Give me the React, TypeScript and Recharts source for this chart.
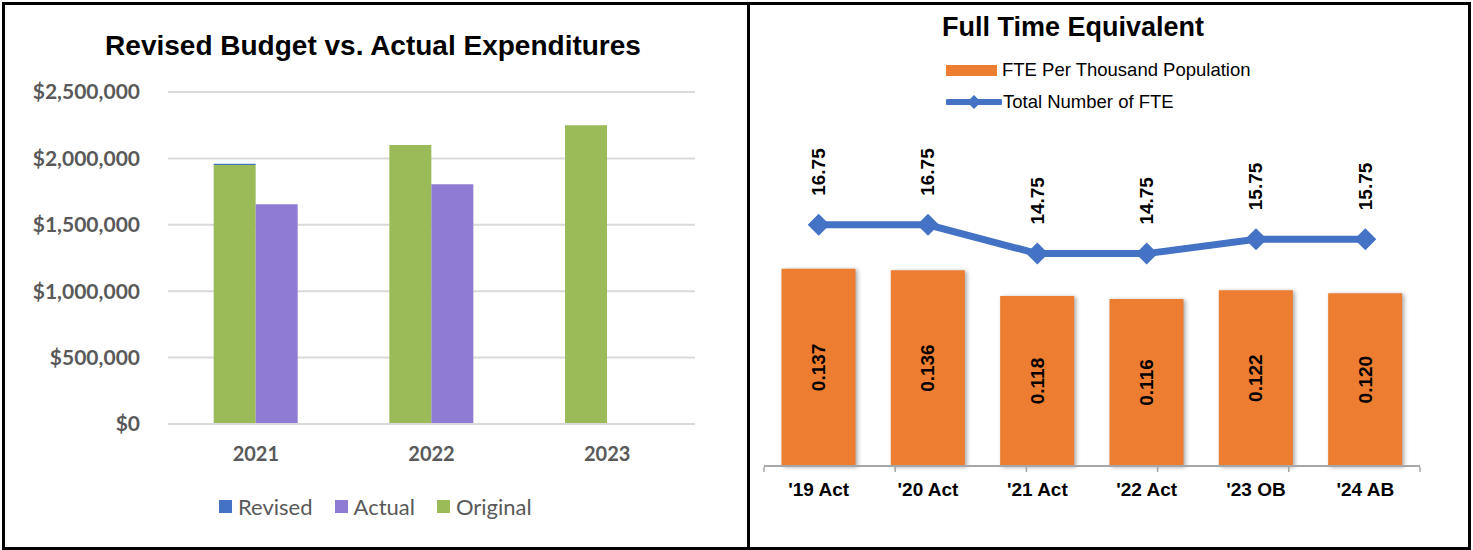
import React from 'react';
import {
  BarChart, Bar, XAxis, YAxis, CartesianGrid, ComposedChart, Line, LabelList,
} from 'recharts';

// left panel: revised budget vs actual
const years = ['2021', '2022', '2023'];
const originalBudget = [1950000, 2100000, 2250000];
const revisedBudget = [10000, 0, 0];
const actualSpend: (number | null)[] = [1655000, 1805000, null];
const budgetTicks = [0, 500000, 1000000, 1500000, 2000000, 2500000];

// right panel: full time equivalent
const fteCategories = ["'19 Act", "'20 Act", "'21 Act", "'22 Act", "'23 OB", "'24 AB"];
const ftePerThousand = [0.137, 0.136, 0.118, 0.116, 0.122, 0.12];
const fteTotal = [16.75, 16.75, 14.75, 14.75, 15.75, 15.75];
const edgeTicks = [0, 1, 2, 3, 4, 5, 6];

const budgetData = years.map((year, i) => ({
  year,
  original: originalBudget[i],
  revised: revisedBudget[i],
  actual: actualSpend[i],
}));

const fteData = fteCategories.map((cat, i) => ({
  cat,
  perK: ftePerThousand[i],
  total: fteTotal[i],
}));

const CALIBRI = 'Lato, "Open Sans", sans-serif';
const ARIAL = '"Liberation Sans", Arial, sans-serif';

const GREEN = '#9bbb59';
const PURPLE = '#8f7bd3';
const BLUE = '#4472c4';
const ORANGE = '#ed7d31';

const money = (v: number) => '$' + v.toLocaleString('en-US');

const BarValueLabel = (props: any) => {
  const vb = props.viewBox ?? props;
  const cx = vb.x + vb.width / 2;
  const cy = vb.y + vb.height / 2;
  return (
    <text
      x={cx}
      y={cy}
      transform={`rotate(-90 ${cx} ${cy})`}
      textAnchor="middle"
      dominantBaseline="central"
      fontFamily={ARIAL}
      fontWeight="bold"
      fontSize={19}
      fill="#000"
    >
      {Number(props.value).toFixed(3)}
    </text>
  );
};

const LineValueLabel = (props: any) => {
  const x = props.x ?? props.viewBox?.x;
  const y = (props.y ?? props.viewBox?.y) - 29;
  return (
    <text
      x={x}
      y={y}
      transform={`rotate(-90 ${x} ${y})`}
      textAnchor="start"
      dominantBaseline="central"
      fontFamily={ARIAL}
      fontWeight="bold"
      fontSize={19}
      fill="#000"
    >
      {Number(props.value).toFixed(2)}
    </text>
  );
};

const Diamond = (props: any) => {
  const { cx, cy, index } = props;
  const r = 11;
  return (
    <polygon
      key={`d-${index}`}
      points={`${cx},${cy - r} ${cx + r},${cy} ${cx},${cy + r} ${cx - r},${cy}`}
      fill={BLUE}
    />
  );
};

const LegendSwatch = ({ color, label }: { color: string; label: string }) => (
  <div style={{ display: 'flex', alignItems: 'center', marginRight: 22 }}>
    <div style={{ width: 13, height: 13, background: color, marginRight: 6 }} />
    <span>{label}</span>
  </div>
);

export default function App() {
  return (
    <div style={{ position: 'absolute', left: 0, top: 0, width: 1473, height: 550, background: '#fff' }}>
      <style>{`.fte-bar .recharts-bar-rectangle path { filter: drop-shadow(2px 1px 2px rgba(0,0,0,0.35)); }`}</style>

      {/* frame */}
      <div style={{ position: 'absolute', left: 2, top: 2, width: 1469, height: 548, border: '3px solid #000', boxSizing: 'border-box' }} />
      <div style={{ position: 'absolute', left: 747, top: 2, width: 3, height: 548, background: '#000' }} />

      {/* left panel */}
      <div style={{ position: 'absolute', left: 0, top: 0, width: 748, height: 550 }}>
        <div style={{ position: 'absolute', left: 0, width: 746, top: 30, textAlign: 'center', fontFamily: ARIAL, fontWeight: 'bold', fontSize: 28, color: '#000' }}>
          Revised Budget vs. Actual Expenditures
        </div>
        <BarChart
          width={748}
          height={550}
          data={budgetData}
          margin={{ top: 92, right: 53, left: 0, bottom: 0 }}
          barCategoryGap="26%"
          barGap={0}
        >
          <CartesianGrid vertical={false} stroke="#d9d9d9" strokeWidth={2} />
          <XAxis
            dataKey="year"
            height={126}
            axisLine={{ stroke: '#d9d9d9', strokeWidth: 2 }}
            tickLine={false}
            tickMargin={17}
            tick={{ fill: '#595959', fontSize: 20, fontWeight: 'bold', fontFamily: CALIBRI }}
          />
          <YAxis
            width={168}
            domain={[0, 2500000]}
            ticks={budgetTicks}
            tickFormatter={money}
            axisLine={false}
            tickLine={false}
            tickMargin={22}
            tick={{ fill: '#595959', fontSize: 21, fontWeight: 'bold', fontFamily: CALIBRI }}
          />
          <Bar dataKey="original" stackId="budget" fill={GREEN} isAnimationActive={false} />
          <Bar dataKey="revised" stackId="budget" fill={BLUE} isAnimationActive={false} />
          <Bar dataKey="actual" fill={PURPLE} isAnimationActive={false} />
        </BarChart>
        <div style={{ position: 'absolute', left: 219, top: 493, display: 'flex', fontFamily: CALIBRI, fontSize: 22, color: '#595959' }}>
          <LegendSwatch color={BLUE} label="Revised" />
          <LegendSwatch color={PURPLE} label="Actual" />
          <LegendSwatch color={GREEN} label="Original" />
        </div>
      </div>

      {/* right panel */}
      <div style={{ position: 'absolute', left: 749, top: 0, width: 719, height: 548 }}>
        <div style={{ position: 'absolute', left: 0, width: 648, top: 12, textAlign: 'center', fontFamily: ARIAL, fontWeight: 'bold', fontSize: 27, color: '#000' }}>
          Full Time Equivalent
        </div>
        <div style={{ position: 'absolute', left: 197, top: 58, fontFamily: ARIAL, fontSize: 18.5, color: '#000' }}>
          <div style={{ display: 'flex', alignItems: 'center', height: 24 }}>
            <div style={{ width: 51, height: 11, background: ORANGE, marginRight: 5 }} />
            <span>FTE Per Thousand Population</span>
          </div>
          <div style={{ display: 'flex', alignItems: 'center', height: 24, marginTop: 8 }}>
            <svg width={56} height={20} style={{ marginRight: 1 }}>
              <line x1={2} y1={10} x2={54} y2={10} stroke={BLUE} strokeWidth={6} strokeLinecap="round" />
              <polygon points="28,3 35,10 28,17 21,10" fill={BLUE} />
            </svg>
            <span>Total Number of FTE</span>
          </div>
        </div>
        <ComposedChart
          width={719}
          height={548}
          data={fteData}
          margin={{ top: 106, right: 48, left: 15, bottom: 0 }}
          barCategoryGap="16%"
        >
          <XAxis
            dataKey="cat"
            height={1}
            axisLine={{ stroke: '#a6a6a6', strokeWidth: 2 }}
            tickLine={false}
            tickMargin={11}
            tick={{ fill: '#000', fontSize: 19, fontWeight: 'bold', fontFamily: ARIAL }}
          />
          <XAxis
            xAxisId="edges"
            type="number"
            domain={[0, 6]}
            allowDataOverflow
            ticks={edgeTicks}
            interval={0}
            height={81}
            tickFormatter={() => ''}
            axisLine={false}
            tickLine={{ stroke: '#a6a6a6', strokeWidth: 1.5 }}
            tickSize={5}
          />
          <YAxis yAxisId="perK" hide domain={[0, 0.25]} />
          <YAxis yAxisId="fte" hide domain={[0, 25]} />
          <Bar className="fte-bar" yAxisId="perK" dataKey="perK" fill={ORANGE} isAnimationActive={false}>
            <LabelList dataKey="perK" position="center" content={BarValueLabel} />
          </Bar>
          <Line
            yAxisId="fte"
            dataKey="total"
            stroke={BLUE}
            strokeWidth={7}
            dot={Diamond}
            activeDot={false}
            isAnimationActive={false}
          >
            <LabelList dataKey="total" content={LineValueLabel} />
          </Line>
        </ComposedChart>
      </div>
    </div>
  );
}
